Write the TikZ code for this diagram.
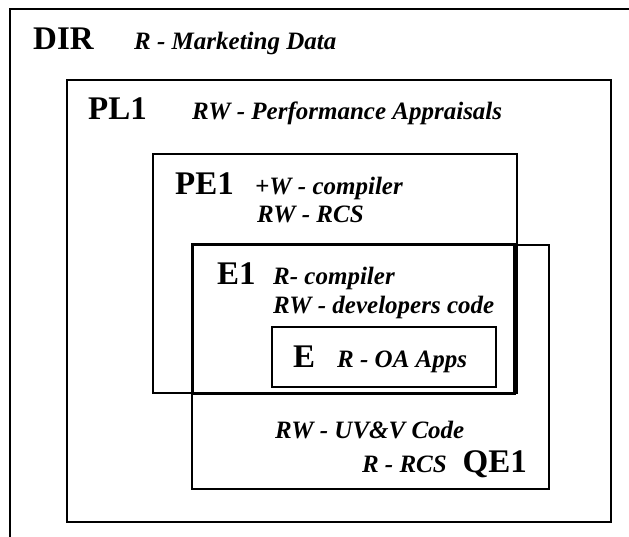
\documentclass[tikz,border=0pt]{standalone}
\usepackage{fontspec}
\setmainfont{Liberation Serif}
\begin{document}
\begin{tikzpicture}[x=1pt,y=-1pt,
  boxline/.style={draw=black, line width=1.8pt},
  thickline/.style={draw=black, line width=3pt},
  headtxt/.style={inner sep=0pt, anchor=base west, font=\fontsize{33}{33}\selectfont\bfseries},
  labtxt/.style={inner sep=0pt, anchor=base west, font=\fontsize{25}{25}\selectfont\bfseries\itshape}]
\useasboundingbox (0,0) rectangle (629,537);
\fill[white] (0,0) rectangle (629,537);
% boxes
\draw[boxline] (10,537) -- (10,9) -- (629,9);
\draw[boxline] (67,80) rectangle (611,522);
\draw[boxline] (153,154) rectangle (517,393);
\draw[boxline] (192,245) rectangle (549,489);
\draw[thickline] (192,245) rectangle (514,393);
\draw[boxline] (272,327) rectangle (496,387);
% texts
\node[headtxt] (dir) at (33,50) {DIR};
\node[labtxt] (dirl) at (134,50) {R - Marketing Data};
\node[headtxt] (pl) at (88,120) {PL1};
\node[labtxt] (pll) at (192,120) {RW - Performance Appraisals};
\node[headtxt] (pe) at (175,195) {PE1};
\node[labtxt] (pel1) at (255,195) {+W - compiler};
\node[labtxt] (pel2) at (257,223) {RW - RCS};
\node[headtxt] (eone) at (217,285) {E1};
\node[labtxt] (eonel1) at (273,285) {R- compiler};
\node[labtxt] (eonel2) at (273,313) {RW - developers code};
\node[headtxt] (e) at (293,367) {E};
\node[labtxt] (el) at (337,367) {R - OA Apps};
\node[labtxt] (qel1) at (275,438) {RW - UV\&V Code};
\node[labtxt, anchor=base east] (qel2) at (447,472) {R - RCS};
\node[headtxt, anchor=base east] (qe) at (527,472) {QE1};
\end{tikzpicture}
\end{document}
